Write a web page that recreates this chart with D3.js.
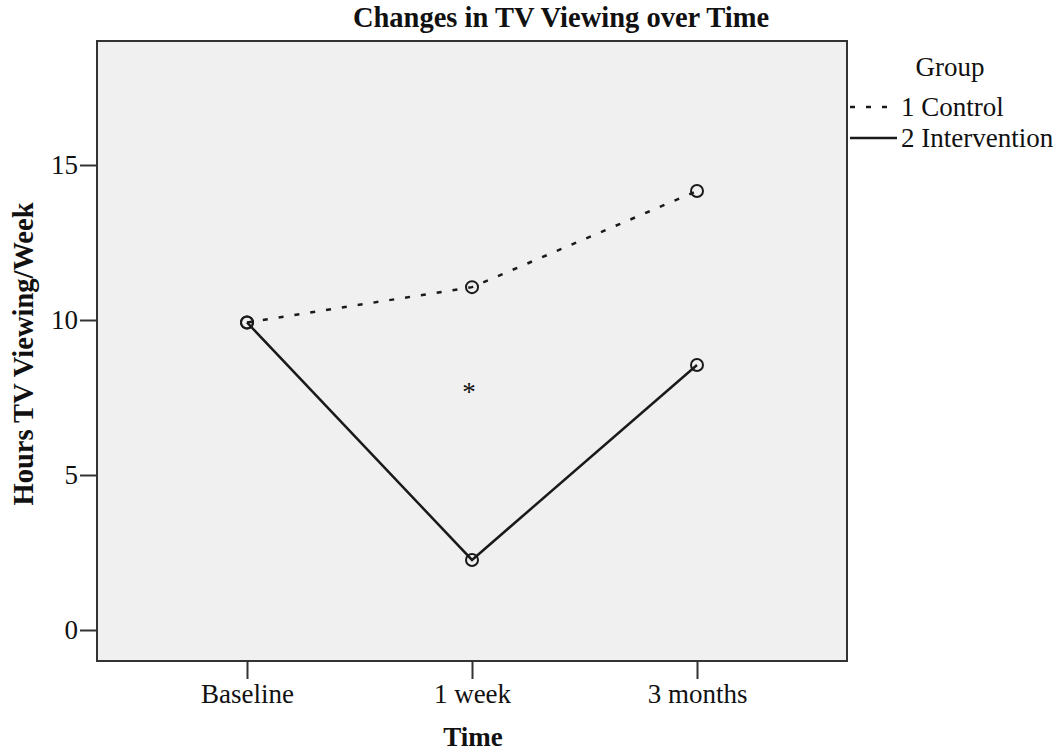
<!DOCTYPE html>
<html>
<head>
<meta charset="utf-8">
<script src="https://cdn.jsdelivr.net/npm/d3@7"></script>
<style>
  html, body { margin: 0; padding: 0; background: #fff; }
  svg { display: block; }
  svg text { font-family: "Liberation Serif", "Times New Roman", serif; fill: #111; }
</style>
</head>
<body>
<svg id="chart" width="1062" height="754"></svg>
<script>
// ---- data ----
const categories = ["Baseline", "1 week", "3 months"];
const controlValues = [9.92, 11.06, 14.16];
const interventionValues = [9.92, 2.26, 8.55];
const seriesNames = ["1 Control", "2 Intervention"];
const yTicks = [0, 5, 10, 15];
const yDomain = [-1, 19];
const sigMarkers = [{ category: "1 week", value: 7.77, label: "*" }];
const chartTitle = "Changes in TV Viewing over Time";
const xTitle = "Time";
const yTitle = "Hours TV Viewing/Week";
const legendTitle = "Group";

// ---- layout ----
const W = 1062, H = 754;
const plot = { left: 97, right: 847, top: 41, bottom: 661 };
const FS = 27, FSB = 28.5;
const SERIF = "Liberation Serif";
const lineColor = "#1a1a1a";

const svg = d3.select("#chart");

const x = d3.scalePoint().domain(categories).range([plot.left, plot.right]).padding(2 / 3);
const y = d3.scaleLinear().domain(yDomain).range([plot.bottom, plot.top]);

// plot background
svg.append("rect")
  .attr("x", plot.left).attr("y", plot.top)
  .attr("width", plot.right - plot.left).attr("height", plot.bottom - plot.top)
  .attr("fill", "#f0f0f0").attr("stroke", "#333").attr("stroke-width", 2);

// axes
const yAxis = svg.append("g").attr("transform", `translate(${plot.left},0)`)
  .call(d3.axisLeft(y).tickValues(yTicks).tickSize(17).tickPadding(2).tickFormat(d3.format("d")));
const xAxis = svg.append("g").attr("transform", `translate(0,${plot.bottom})`)
  .call(d3.axisBottom(x).tickSize(18).tickPadding(5));
[yAxis, xAxis].forEach(g => {
  g.attr("font-family", SERIF).attr("font-size", FS);
  g.select(".domain").remove();
  g.selectAll(".tick line").attr("stroke", "#333").attr("stroke-width", 2);
  g.selectAll(".tick text").attr("font-size", FS).attr("font-family", SERIF).attr("fill", "#111");
});
xAxis.selectAll(".tick text").attr("dy", "0.71em");

// series
const series = [
  { name: seriesNames[0], values: controlValues, dash: "5,11" },
  { name: seriesNames[1], values: interventionValues, dash: null }
];
const line = d3.line().x((d, i) => x(categories[i])).y(d => y(d));

series.forEach(s => {
  svg.append("path")
    .datum(s.values)
    .attr("d", line)
    .attr("fill", "none")
    .attr("stroke", lineColor)
    .attr("stroke-width", 2.5)
    .attr("stroke-dasharray", s.dash);
  svg.selectAll(null)
    .data(s.values)
    .enter().append("circle")
    .attr("cx", (d, i) => x(categories[i]))
    .attr("cy", d => y(d))
    .attr("r", 6)
    .attr("fill", "none")
    .attr("stroke", lineColor)
    .attr("stroke-width", 2);
});

// significance marker
svg.selectAll(null).data(sigMarkers).enter().append("text")
  .attr("x", d => x(d.category) - 3)
  .attr("y", d => y(d.value) + 12)
  .attr("text-anchor", "middle")
  .attr("font-family", SERIF)
  .attr("font-size", FS)
  .text(d => d.label);

// titles
svg.append("text")
  .attr("x", 561).attr("y", 27)
  .attr("text-anchor", "middle")
  .attr("font-family", SERIF)
  .attr("font-size", FSB).attr("font-weight", "bold")
  .text(chartTitle);

svg.append("text")
  .attr("x", 473).attr("y", 746)
  .attr("text-anchor", "middle")
  .attr("font-family", SERIF)
  .attr("font-size", FS).attr("font-weight", "bold")
  .text(xTitle);

svg.append("text")
  .attr("transform", `translate(33,${(203 + 505) / 2}) rotate(-90)`)
  .attr("text-anchor", "middle")
  .attr("font-family", SERIF)
  .attr("font-size", FSB).attr("font-weight", "bold")
  .text(yTitle);

// legend
const legend = svg.append("g");
legend.append("text")
  .attr("x", 950).attr("y", 76)
  .attr("text-anchor", "middle")
  .attr("font-family", SERIF)
  .attr("font-size", FS)
  .text(legendTitle);

series.forEach((s, i) => {
  const ly = 107 + i * 31;
  legend.append("line")
    .attr("x1", 850).attr("x2", i === 0 ? 892 : 897)
    .attr("y1", ly).attr("y2", ly)
    .attr("stroke", lineColor).attr("stroke-width", 2.5)
    .attr("stroke-dasharray", s.dash);
  legend.append("text")
    .attr("x", 901).attr("y", ly + 9)
    .attr("font-family", SERIF)
    .attr("font-size", FS)
    .text(s.name);
});
</script>
</body>
</html>
